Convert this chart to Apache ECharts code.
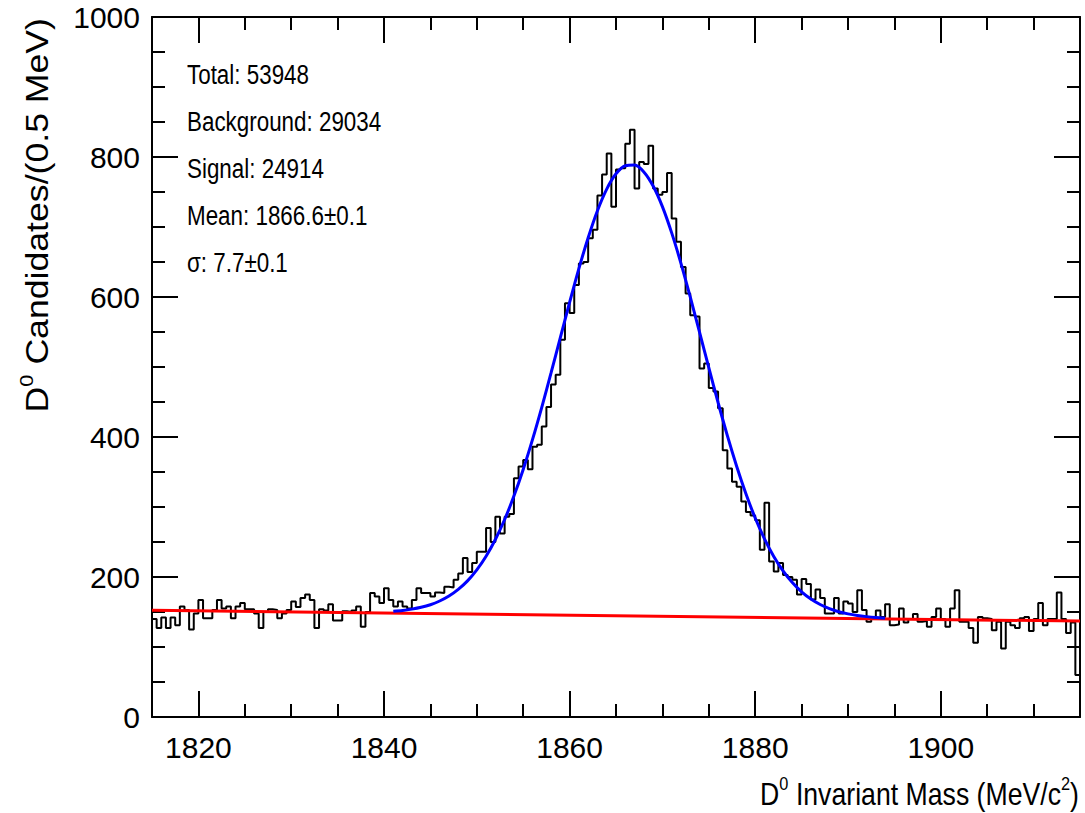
<!DOCTYPE html>
<html>
<head>
<meta charset="utf-8">
<script src="https://cdn.jsdelivr.net/npm/echarts@6/dist/echarts.min.js"></script>
<style>
html,body{margin:0;padding:0;background:#fff;}
#chart{width:1085px;height:813px;}
</style>
</head>
<body>
<div id="chart"></div>
<script>
// ---- data ----
const binLow = 1815;
const binWidth = 0.5;
const counts = [
140,127,142,127,142,131,158,153,125,148,
167,141,141,153,167,155,158,141,158,163,
154,154,148,127,150,154,153,141,148,153,
165,157,170,175,167,127,154,152,161,138,
138,151,150,152,158,129,150,177,172,163,
184,167,158,165,158,155,167,184,177,177,
172,178,177,186,185,196,205,227,207,220,
236,236,270,250,286,262,286,290,341,358,
367,354,386,389,415,443,475,489,539,591,
577,617,648,650,684,696,745,775,805,729,
782,784,819,839,755,793,790,816,755,746,
750,777,712,679,643,605,574,572,498,505,
470,465,441,381,355,336,329,308,293,288,
281,239,306,222,208,220,203,200,196,175,
197,190,168,182,170,148,148,170,148,165,
162,150,181,153,136,140,152,143,161,131,
132,155,135,140,147,136,137,129,143,155,
140,129,155,181,136,136,127,106,143,141,
140,124,136,98,136,131,127,141,143,123,
140,163,131,140,140,178,140,120,135,60
];
const fitX = [1841,1842,1843,1844,1845,1846,1847,1848,1849,1850,1851,1852,1853,1854,1855,1856,1857,1858,1859,1860,1861,1862,1863,1864,1865,1866,1867,1868,1869,1870,1871,1872,1873,1874,1875,1876,1877,1878,1879,1880,1881,1882,1883,1884,1885,1886,1887,1888,1889,1890,1891,1892,1893,1894];
const fitY = [151.1,152.2,154.1,156.7,160.4,165.7,172.8,182.3,194.5,210.2,229.7,253.6,282.1,315.6,353.6,396.2,442.4,491.5,542.0,592.2,640.5,684.7,723.3,754.2,776.0,787.6,788.5,778.7,758.5,729.1,691.6,648.1,600.1,549.8,499.0,449.3,401.9,358.3,318.9,284.3,254.5,229.4,208.8,192.0,178.8,168.5,160.7,154.8,150.4,147.3,145.0,143.4,142.2,141.4];
const bgX = [1815, 1915];
const bgY = [152.5, 137.0];
const xMajorTicks = [1820, 1840, 1860, 1880, 1900];
const xMinorTicks = [1815,1825,1830,1835,1845,1850,1855,1865,1870,1875,1885,1890,1895,1905,1910];
const yMin = 0, yMax = 1000, yStep = 200;
const statLines = ['Total: 53948', 'Background: 29034', 'Signal: 24914', 'Mean: 1866.6\u00b10.1', '\u03c3: 7.7\u00b10.1'];
const xTitle = ['D', '0', ' Invariant Mass (MeV/c', '2', ')'];
const yTitle = ['D', '0', ' Candidates/(0.5 MeV)'];

// ---- build ----
const histData = counts.map((v, i) => [binLow + i * binWidth, v]);
histData.push([binLow + counts.length * binWidth, counts[counts.length - 1]]);
const fitData = fitX.map((x, i) => [x, fitY[i]]);
const bgData = bgX.map((x, i) => [x, bgY[i]]);

const FONT = '"Liberation Sans", Arial, Helvetica, sans-serif';
const NARROW = '"Liberation Sans Narrow", "Arial Narrow", "Liberation Sans", sans-serif';
const xLo = binLow, xHi = binLow + counts.length * binWidth;
const plain = v => String(v);

function xAx(pos, custom, len, labels, line) {
  return {
    type: 'value', position: pos, min: xLo, max: xHi, gridIndex: 0,
    axisLine: {show: line, onZero: false, lineStyle: {color: '#000', width: 2}},
    axisTick: {show: true, inside: true, length: len, customValues: custom, lineStyle: {color: '#000', width: 2}},
    axisLabel: {show: labels, customValues: custom, formatter: plain, fontSize: 30, color: '#000', fontFamily: NARROW, margin: 15},
    splitLine: {show: false}
  };
}
function yAx(pos, labels) {
  return {
    type: 'value', position: pos, min: yMin, max: yMax, interval: yStep,
    axisLine: {show: true, onZero: false, lineStyle: {color: '#000', width: 2}},
    axisTick: {show: true, inside: true, length: 26, lineStyle: {color: '#000', width: 2}},
    minorTick: {show: true, splitNumber: 4, length: 13, lineStyle: {color: '#000', width: 2}},
    axisLabel: {show: labels, formatter: plain, fontSize: 30, color: '#000', fontFamily: NARROW, margin: 12},
    splitLine: {show: false}
  };
}

const chart = echarts.init(document.getElementById('chart'), null, {renderer: 'svg'});
const richTitle = {
  n: {fontSize: 31, fontFamily: FONT, color: '#000', lineHeight: 36, verticalAlign: 'bottom'},
  s: {fontSize: 19, fontFamily: FONT, color: '#000', lineHeight: 36, verticalAlign: 'top', padding: [0,0,12,0]}
};
function richStr(parts) {
  return parts.map((p, i) => (i % 2 === 1 ? '{s|' + p + '}' : '{n|' + p + '}')).join('');
}

chart.setOption({
  backgroundColor: '#fff',
  animation: false,
  grid: {left: 152, right: 5, top: 17, bottom: 96, containLabel: false},
  xAxis: [
    xAx('bottom', xMajorTicks, 26, true, true),
    xAx('bottom', xMinorTicks, 13, false, false),
    xAx('top', xMajorTicks, 26, false, true),
    xAx('top', xMinorTicks, 13, false, false)
  ],
  yAxis: [yAx('left', true), yAx('right', false)],
  series: [
    {type: 'line', data: histData, step: 'end', showSymbol: false, xAxisIndex: 0, yAxisIndex: 0,
     lineStyle: {color: '#000', width: 2}, z: 2},
    {type: 'line', data: bgData, showSymbol: false, xAxisIndex: 0, yAxisIndex: 0,
     lineStyle: {color: '#ff0000', width: 3}, z: 3},
    {type: 'line', data: fitData, showSymbol: false, smooth: 0.3, xAxisIndex: 0, yAxisIndex: 0,
     lineStyle: {color: '#0000ff', width: 3}, z: 4}
  ],
  graphic: [
    ...statLines.map((t, i) => ({
      type: 'text', x: 187, y: 60 + i * 47, scaleX: 0.8,
      style: {text: t, font: '28px ' + FONT, fill: '#000'}
    })),
    {type: 'text', x: 1079, y: 774, scaleX: 0.86,
     style: {text: richStr(xTitle), rich: richTitle, align: 'right'}},
    {type: 'text', x: 17, y: 18, rotation: Math.PI / 2, scaleX: 1.15,
     style: {text: richStr(yTitle), rich: richTitle, align: 'right', verticalAlign: 'top'}}
  ]
});
</script>
</body>
</html>
